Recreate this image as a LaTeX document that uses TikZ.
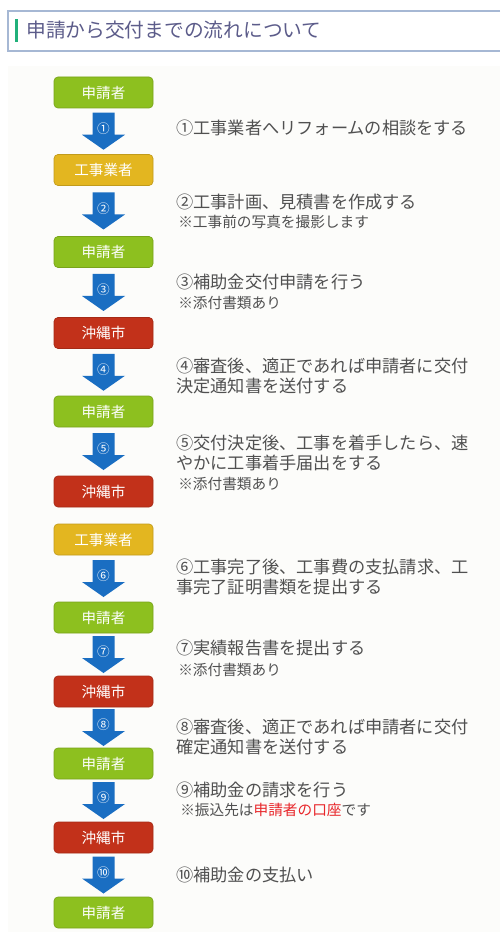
\documentclass[tikz,border=0pt]{standalone}
\usepackage{fontspec}
\setmainfont{Noto Sans CJK JP}
\usetikzlibrary{calc}

\definecolor{applicant}{HTML}{8DC01F}
\definecolor{contractor}{HTML}{E3B620}
\definecolor{city}{HTML}{C2311A}
\definecolor{flowblue}{HTML}{1A6EC2}
\definecolor{textgray}{HTML}{505050}
\definecolor{titlecol}{HTML}{5C5C8A}
\definecolor{headline}{HTML}{A6B8D4}
\definecolor{barcol}{HTML}{20B07A}
\definecolor{panel}{HTML}{FCFCFA}
\definecolor{notered}{HTML}{E8262A}

\begin{document}
\begin{tikzpicture}[x=0.75pt,y=-0.75pt,
    actor/.style={draw=#1!85!black, fill=#1, line width=0.5pt, rounded corners=3pt,
        minimum width=74.25pt, minimum height=23.25pt, inner sep=0pt, text=white,
        font=\fontsize{10.9}{12}\selectfont},
    stepline/.style={anchor=west, align=left, inner sep=0pt, text=textgray,
        font=\fontsize{12.9}{15}\selectfont},
    note/.style={anchor=west, inner sep=0pt, text=textgray,
        font=\fontsize{11}{12}\selectfont},
    num/.style={inner sep=0pt, text=white, font=\fontsize{9.5}{10}\selectfont}]
        \useasboundingbox (0,0) rectangle (500,937);
        \fill[panel] (8,66) rectangle (500,932);

        \draw[headline, line width=1.1pt] (500,11) -- (8,11) -- (8,51) -- (500,51);
        \fill[barcol] (14.5,19.5) rectangle (18,42);
        \node[anchor=west, inner sep=0pt, text=titlecol, font=\fontsize{14.8}{16}\selectfont] (title) at (26,30) {申請から交付までの流れについて};

        \node[actor=applicant] (b1) at (103.5,92.5) {申請者};
        \node[actor=contractor] (b2) at (103.5,170) {工事業者};
        \node[actor=applicant] (b3) at (103.5,252) {申請者};
        \node[actor=city] (b4) at (103.5,333) {沖縄市};
        \node[actor=applicant] (b5) at (103.5,411.5) {申請者};
        \node[actor=city] (b6) at (103.5,491.5) {沖縄市};
        \node[actor=contractor] (b7) at (103.5,539.5) {工事業者};
        \node[actor=applicant] (b8) at (103.5,617.5) {申請者};
        \node[actor=city] (b9) at (103.5,691.5) {沖縄市};
        \node[actor=applicant] (b10) at (103.5,763.5) {申請者};
        \node[actor=city] (b11) at (103.5,837.5) {沖縄市};
        \node[actor=applicant] (b12) at (103.5,912.5) {申請者};

        \foreach \a/\b/\c [count=\i] in {b1/b2/①, b2/b3/②, b3/b4/③, b4/b5/④, b5/b6/⑤,
                b7/b8/⑥, b8/b9/⑦, b9/b10/⑧, b10/b11/⑨, b11/b12/⑩} {
            \coordinate (m\i) at ($(\a.south)!0.5!(\b.north)$);
            \fill[flowblue] ([shift={(-11,-18.5)}]m\i) -- ++(22,0) -- ++(0,22) -- ++(10.5,0)
                -- ++(-21.5,15) -- ++(-21.5,-15) -- ++(10.5,0) -- cycle;
            \node[num] (k\i) at ([shift={(0,-2.5)}]m\i) {\c};
        }

        \node[stepline] (s1) at (176,128) {①工事業者へリフォームの相談をする};
        \node[stepline] (s2) at (176,202) {②工事計画、見積書を作成する};
        \node[note] (n2) at (178,222) {※工事前の写真を撮影します};
        \node[stepline] (s3) at (176,282) {③補助金交付申請を行う};
        \node[note] (n3) at (178,303) {※添付書類あり};
        \node[stepline] (s4) at (176,376) {④審査後、適正であれば申請者に交付\\決定通知書を送付する};
        \node[stepline] (s5) at (176,453) {⑤交付決定後、工事を着手したら、速\\やかに工事着手届出をする};
        \node[note] (n5) at (178,484) {※添付書類あり};
        \node[stepline] (s6) at (176,576.5) {⑥工事完了後、工事費の支払請求、工\\事完了証明書類を提出する};
        \node[stepline] (s7) at (176,648) {⑦実績報告書を提出する};
        \node[note] (n7) at (178,670) {※添付書類あり};
        \node[stepline] (s8) at (176,737) {⑧審査後、適正であれば申請者に交付\\確定通知書を送付する};
        \node[stepline] (s9) at (176,790) {⑨補助金の請求を行う};
        \node[note] (n9) at (180,810) {※振込先は\textcolor{notered}{申請者の口座}です};
        \node[stepline] (s10) at (176,875) {⑩補助金の支払い};
    \end{tikzpicture}
\end{document}
